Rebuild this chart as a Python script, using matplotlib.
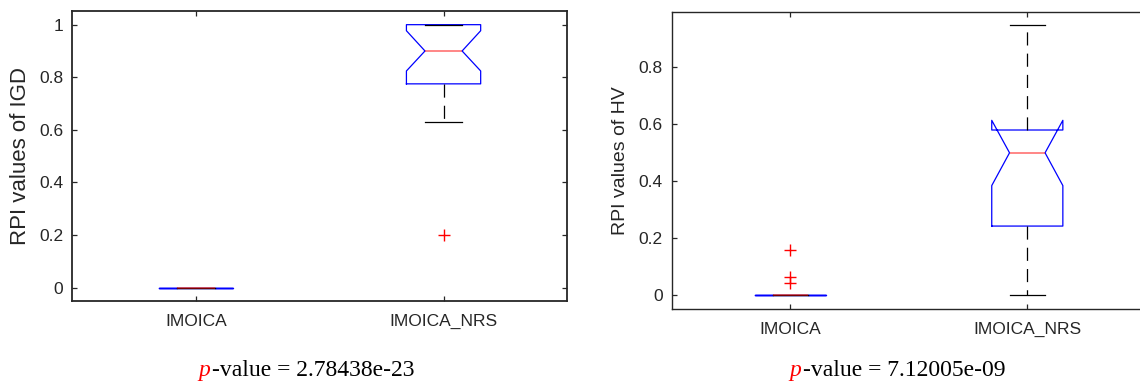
import matplotlib
matplotlib.use("Agg")
import matplotlib.pyplot as plt

# ---- data ----
categories = ["IMOICA", "IMOICA_NRS"]

igd_q1 = [0.0, 0.775]
igd_med = [0.0, 0.900]
igd_q3 = [0.0, 1.000]
igd_whislo = [0.0, 0.630]
igd_whishi = [0.0, 1.000]
igd_cilo = [0.0, 0.824]
igd_cihi = [0.0, 0.977]
igd_fliers = [[], [0.20]]
igd_p = "2.78438e-23"

hv_q1 = [0.0, 0.243]
hv_med = [0.0, 0.500]
hv_q3 = [0.0, 0.580]
hv_whislo = [0.0, 0.000]
hv_whishi = [0.0, 0.950]
hv_cilo = [0.0, 0.385]
hv_cihi = [0.0, 0.614]
hv_fliers = [[0.160, 0.065, 0.042], []]
hv_p = "7.12005e-09"

INK = "#262626"
SANS = "Liberation Sans"
SERIF = "Liberation Serif"


def make_stats(q1, med, q3, lo, hi, cilo, cihi, fliers):
    out = []
    for i in range(len(categories)):
        out.append(dict(label=categories[i], q1=q1[i], med=med[i], q3=q3[i],
                        whislo=lo[i], whishi=hi[i], cilo=cilo[i], cihi=cihi[i],
                        fliers=fliers[i]))
    return out


def draw_panel(ax, stats, ylim, yticks, ylabel, ylabel_size, ylabel_x, spine_lw):
    lw = 0.9
    ax.bxp(stats, positions=[1, 2], widths=0.3, capwidths=0.15, shownotches=True,
           boxprops=dict(color="#0000ff", lw=lw),
           medianprops=dict(color="#ff0000", lw=1.1, alpha=0.6),
           whiskerprops=dict(color="black", lw=lw, linestyle=(0, (10.5, 6.5))),
           capprops=dict(color="black", lw=lw),
           flierprops=dict(marker="+", markeredgecolor="#ff0000", markersize=8,
                           markeredgewidth=1.0, linestyle="none"))
    ax.set_xlim(0.5, 2.5)
    ax.set_ylim(*ylim)
    ax.set_yticks(yticks)
    ax.set_yticklabels(["%g" % t for t in yticks])
    ax.set_xticks([1, 2])
    ax.set_xticklabels(categories)
    ax.tick_params(direction="in", length=3.8, width=0.9, top=True, right=True,
                   colors=INK, labelsize=12.5)
    ax.tick_params(axis="y", pad=6.5)
    ax.tick_params(axis="x", pad=9)
    for lab in ax.get_xticklabels() + ax.get_yticklabels():
        lab.set_family(SANS)
    for s in ax.spines.values():
        s.set_color(INK)
        s.set_linewidth(spine_lw)
    ax.set_ylabel(ylabel, fontsize=ylabel_size, family=SANS, color=INK)
    ax.yaxis.set_label_coords(ylabel_x, 0.5)
    ax.yaxis.label.set_verticalalignment("center")


def p_text(fig, x_p, x_rest, value):
    y = 1 - 376 / 383
    fig.text(x_p / 1140, y, "p", color="#ff0000", fontsize=17, family=SERIF,
             style="italic", ha="left", va="baseline")
    fig.text(x_rest / 1140, y, "-value = " + value, color="black", fontsize=17,
             family=SERIF, ha="left", va="baseline")


fig = plt.figure(figsize=(11.4, 3.83), dpi=100)

ax1 = fig.add_axes([72.3 / 1140, 1 - 301 / 383, 495 / 1140, 290 / 383])
draw_panel(ax1, make_stats(igd_q1, igd_med, igd_q3, igd_whislo, igd_whishi,
                           igd_cilo, igd_cihi, igd_fliers),
           (-0.0506, 1.052), [0, 0.2, 0.4, 0.6, 0.8, 1], "RPI values of IGD",
           16, -0.105, 1.3)

ax2 = fig.add_axes([671.8 / 1140, 1 - 309.3 / 383, 474 / 1140, 297.3 / 383])
draw_panel(ax2, make_stats(hv_q1, hv_med, hv_q3, hv_whislo, hv_whishi,
                           hv_cilo, hv_cihi, hv_fliers),
           (-0.049, 0.994), [0, 0.2, 0.4, 0.6, 0.8], "RPI values of HV",
           14, -0.109, 1.0)

p_text(fig, 198, 211.5, igd_p)
p_text(fig, 789, 803, hv_p)

fig.savefig("out.png", dpi=100)
